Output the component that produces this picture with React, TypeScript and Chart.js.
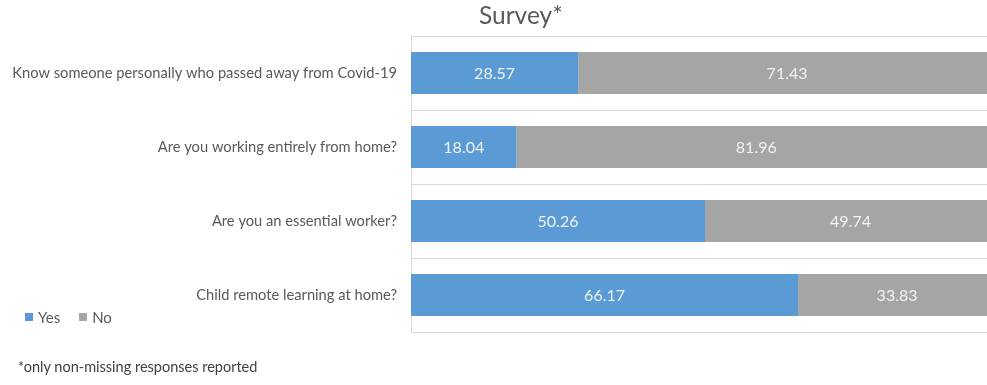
import React, { useEffect, useRef } from "react";
import { Chart, registerables } from "chart.js";

Chart.register(...registerables);

const categories = [
  "Know someone personally who passed away from Covid-19",
  "Are you working entirely from home?",
  "Are you an essential worker?",
  "Child remote learning at home?",
];
const yesValues = [28.57, 18.04, 50.26, 66.17];
const noValues = [71.43, 81.96, 49.74, 33.83];
const seriesNames = ["Yes", "No"];
const seriesColors = ["#5B9BD5", "#A5A5A5"];
const titleText = "Survey*";
const footnoteText = "*only non-missing responses reported";

const FONT = "Lato, 'Open Sans', sans-serif";

const segLabels = {
  id: "segLabels",
  afterDatasetsDraw(chart: any) {
    const ctx = chart.ctx;
    ctx.save();
    ctx.font = `16px ${FONT}`;
    ctx.fillStyle = "#F2F2F2";
    ctx.textAlign = "center";
    ctx.textBaseline = "middle";
    chart.data.datasets.forEach((ds: any, di: number) => {
      const meta = chart.getDatasetMeta(di);
      meta.data.forEach((el: any, i: number) => {
        const p = el.getProps(["x", "base", "y"], true);
        ctx.fillText(Number(ds.data[i]).toFixed(2), (p.x + p.base) / 2, p.y + 1);
      });
    });
    ctx.restore();
  },
};

export default function App() {
  const ref = useRef<HTMLCanvasElement | null>(null);

  useEffect(() => {
    if (!ref.current) return;
    const chart = new Chart(ref.current, {
      type: "bar",
      data: {
        labels: categories,
        datasets: [
          { label: seriesNames[0], data: yesValues, backgroundColor: seriesColors[0], borderWidth: 0 },
          { label: seriesNames[1], data: noValues, backgroundColor: seriesColors[1], borderWidth: 0 },
        ],
      },
      options: {
        indexAxis: "y",
        responsive: false,
        animation: false,
        devicePixelRatio: 1,
        layout: { padding: { top: 36, bottom: 53, left: 0, right: 1 } },
        datasets: { bar: { categoryPercentage: 1, barPercentage: 0.565 } },
        plugins: { legend: { display: false }, title: { display: false }, tooltip: { enabled: false } },
        scales: {
          x: { stacked: true, min: 0, max: 100, display: false },
          y: {
            stacked: true,
            offset: true,
            grid: { color: "#D9D9D9", offset: true, drawTicks: false, lineWidth: 1 },
            border: { display: true, color: "#D9D9D9" },
            ticks: { color: "#595959", padding: 14, font: { family: FONT, size: 14.7 } },
            afterFit: (s: any) => {
              s.width = 411;
            },
          },
        },
      },
      plugins: [segLabels],
    } as any);
    return () => chart.destroy();
  }, []);

  return (
    <div style={{ position: "fixed", left: 0, top: 0, width: 987, height: 385, overflow: "hidden", background: "#fff", fontFamily: FONT }}>
      <canvas ref={ref} width={997} height={385} style={{ position: "absolute", left: 0, top: 0 }} />
      <div style={{ position: "absolute", left: 479, top: 1, fontSize: 24.5, color: "#595959", lineHeight: "28px", whiteSpace: "nowrap" }}>{titleText}</div>
      <div style={{ position: "absolute", left: 25, top: 307, fontSize: 15, color: "#595959", lineHeight: "20px", display: "flex", alignItems: "center", whiteSpace: "nowrap" }}>
        {seriesNames.map((n, i) => (
          <span key={n} style={{ display: "inline-flex", alignItems: "center", marginRight: 19 }}>
            <span style={{ display: "inline-block", width: 8, height: 8, background: seriesColors[i], marginRight: 5 }} />
            {n}
          </span>
        ))}
      </div>
      <div style={{ position: "absolute", left: 18, top: 357, fontSize: 14.5, color: "#404040", lineHeight: "20px", whiteSpace: "nowrap" }}>{footnoteText}</div>
    </div>
  );
}
